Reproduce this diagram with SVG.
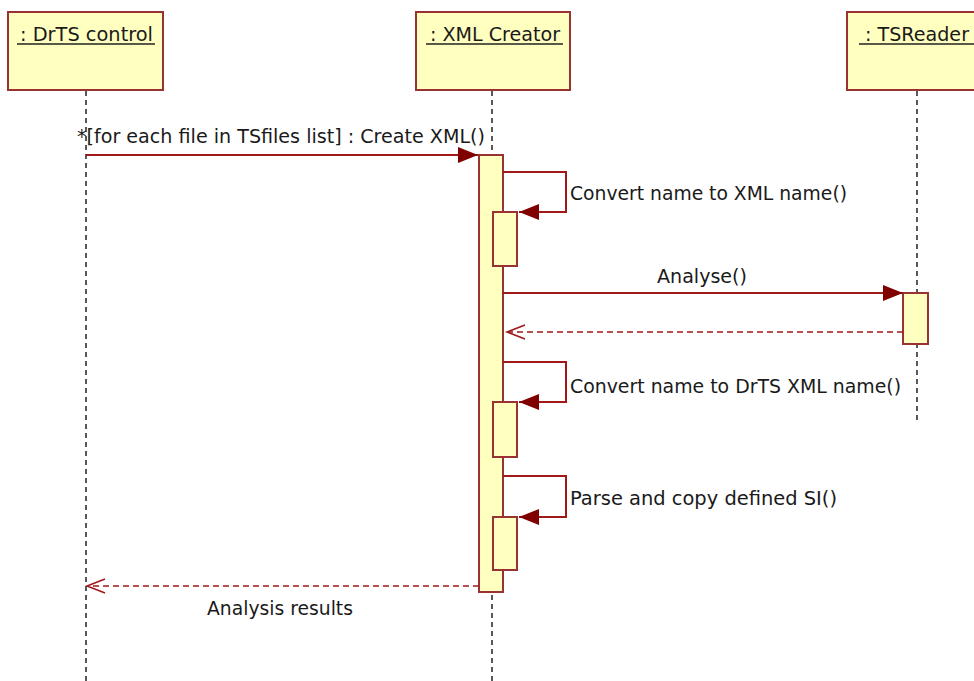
<svg xmlns="http://www.w3.org/2000/svg" width="974" height="681" viewBox="0 0 974 681">
<defs>
<style>
.box{fill:#ffffc0;stroke:#993333;stroke-width:2}
.act{fill:#ffffc0;stroke:#993333;stroke-width:2}
.life{stroke:#222;stroke-width:1.5;stroke-dasharray:5 4;fill:none}
.msg{stroke:#a01818;stroke-width:2;fill:none}
.ret{stroke:#a01818;stroke-width:1.5;stroke-dasharray:6 4;fill:none}
.ul{stroke:#222;stroke-width:1.5}
text{font-family:"DejaVu Sans","Liberation Sans",sans-serif;font-size:19px;fill:#1a1a1a}
</style>
<marker id="sync" markerUnits="userSpaceOnUse" markerWidth="22" markerHeight="18" refX="20" refY="8" orient="auto">
<path d="M0,0 L20,8 L0,16 z" fill="#800000"/>
</marker>
<marker id="open" markerUnits="userSpaceOnUse" markerWidth="22" markerHeight="18" refX="19" refY="8" orient="auto">
<path d="M1,1 L19,8 L1,15" fill="none" stroke="#a01818" stroke-width="1.5"/>
</marker>
</defs>
<rect width="974" height="681" fill="#ffffff"/>

<g id="lifelines">
<line class="life" x1="86" y1="91" x2="86" y2="681"/>
<line class="life" x1="492" y1="91" x2="492" y2="681"/>
<line class="life" x1="917" y1="91" x2="917" y2="420"/>
</g>

<g id="drts">
<rect class="box" x="8" y="12" width="155" height="78"/>
<text x="20" y="41" textLength="133" lengthAdjust="spacingAndGlyphs">: DrTS control</text>
<line class="ul" x1="17" y1="44" x2="155" y2="44"/>
</g>

<g id="xmlcreator">
<rect class="box" x="416" y="12" width="154" height="78"/>
<text x="430" y="41" textLength="130" lengthAdjust="spacingAndGlyphs">: XML Creator</text>
<line class="ul" x1="426" y1="44" x2="563" y2="44"/>
<rect class="act" x="479" y="155" width="24" height="437"/>
<rect class="act" x="493" y="212" width="24" height="54"/>
<rect class="act" x="493" y="402" width="24" height="55"/>
<rect class="act" x="493" y="517" width="24" height="53"/>
</g>

<g id="tsreader">
<rect class="box" x="847" y="12" width="160" height="78"/>
<text x="865" y="41" textLength="104" lengthAdjust="spacingAndGlyphs">: TSReader</text>
<line class="ul" x1="859" y1="44" x2="974" y2="44"/>
<rect class="act" x="903" y="293" width="25" height="51"/>
</g>

<g id="connectors">
<line class="msg" x1="86" y1="155" x2="478" y2="155" marker-end="url(#sync)"/>
<polyline class="msg" points="503,172 566,172 566,212 519,212" marker-end="url(#sync)"/>
<line class="msg" x1="503" y1="293" x2="903" y2="293" marker-end="url(#sync)"/>
<line class="ret" x1="903" y1="332" x2="507" y2="332" marker-end="url(#open)"/>
<polyline class="msg" points="503,362 566,362 566,402 519,402" marker-end="url(#sync)"/>
<polyline class="msg" points="503,476 566,476 566,517 519,517" marker-end="url(#sync)"/>
<line class="ret" x1="479" y1="586" x2="87" y2="586" marker-end="url(#open)"/>
</g>

<g id="labels">
<text x="77" y="143" textLength="408" lengthAdjust="spacingAndGlyphs">*[for each file in TSfiles list] : Create XML()</text>
<text x="570" y="200" textLength="277" lengthAdjust="spacingAndGlyphs">Convert name to XML name()</text>
<text x="657" y="283" textLength="90" lengthAdjust="spacingAndGlyphs">Analyse()</text>
<text x="570" y="393" textLength="331" lengthAdjust="spacingAndGlyphs">Convert name to DrTS XML name()</text>
<text x="570" y="505" textLength="267" lengthAdjust="spacingAndGlyphs">Parse and copy defined SI()</text>
<text x="207" y="615" textLength="146" lengthAdjust="spacingAndGlyphs">Analysis results</text>
</g>
</svg>
